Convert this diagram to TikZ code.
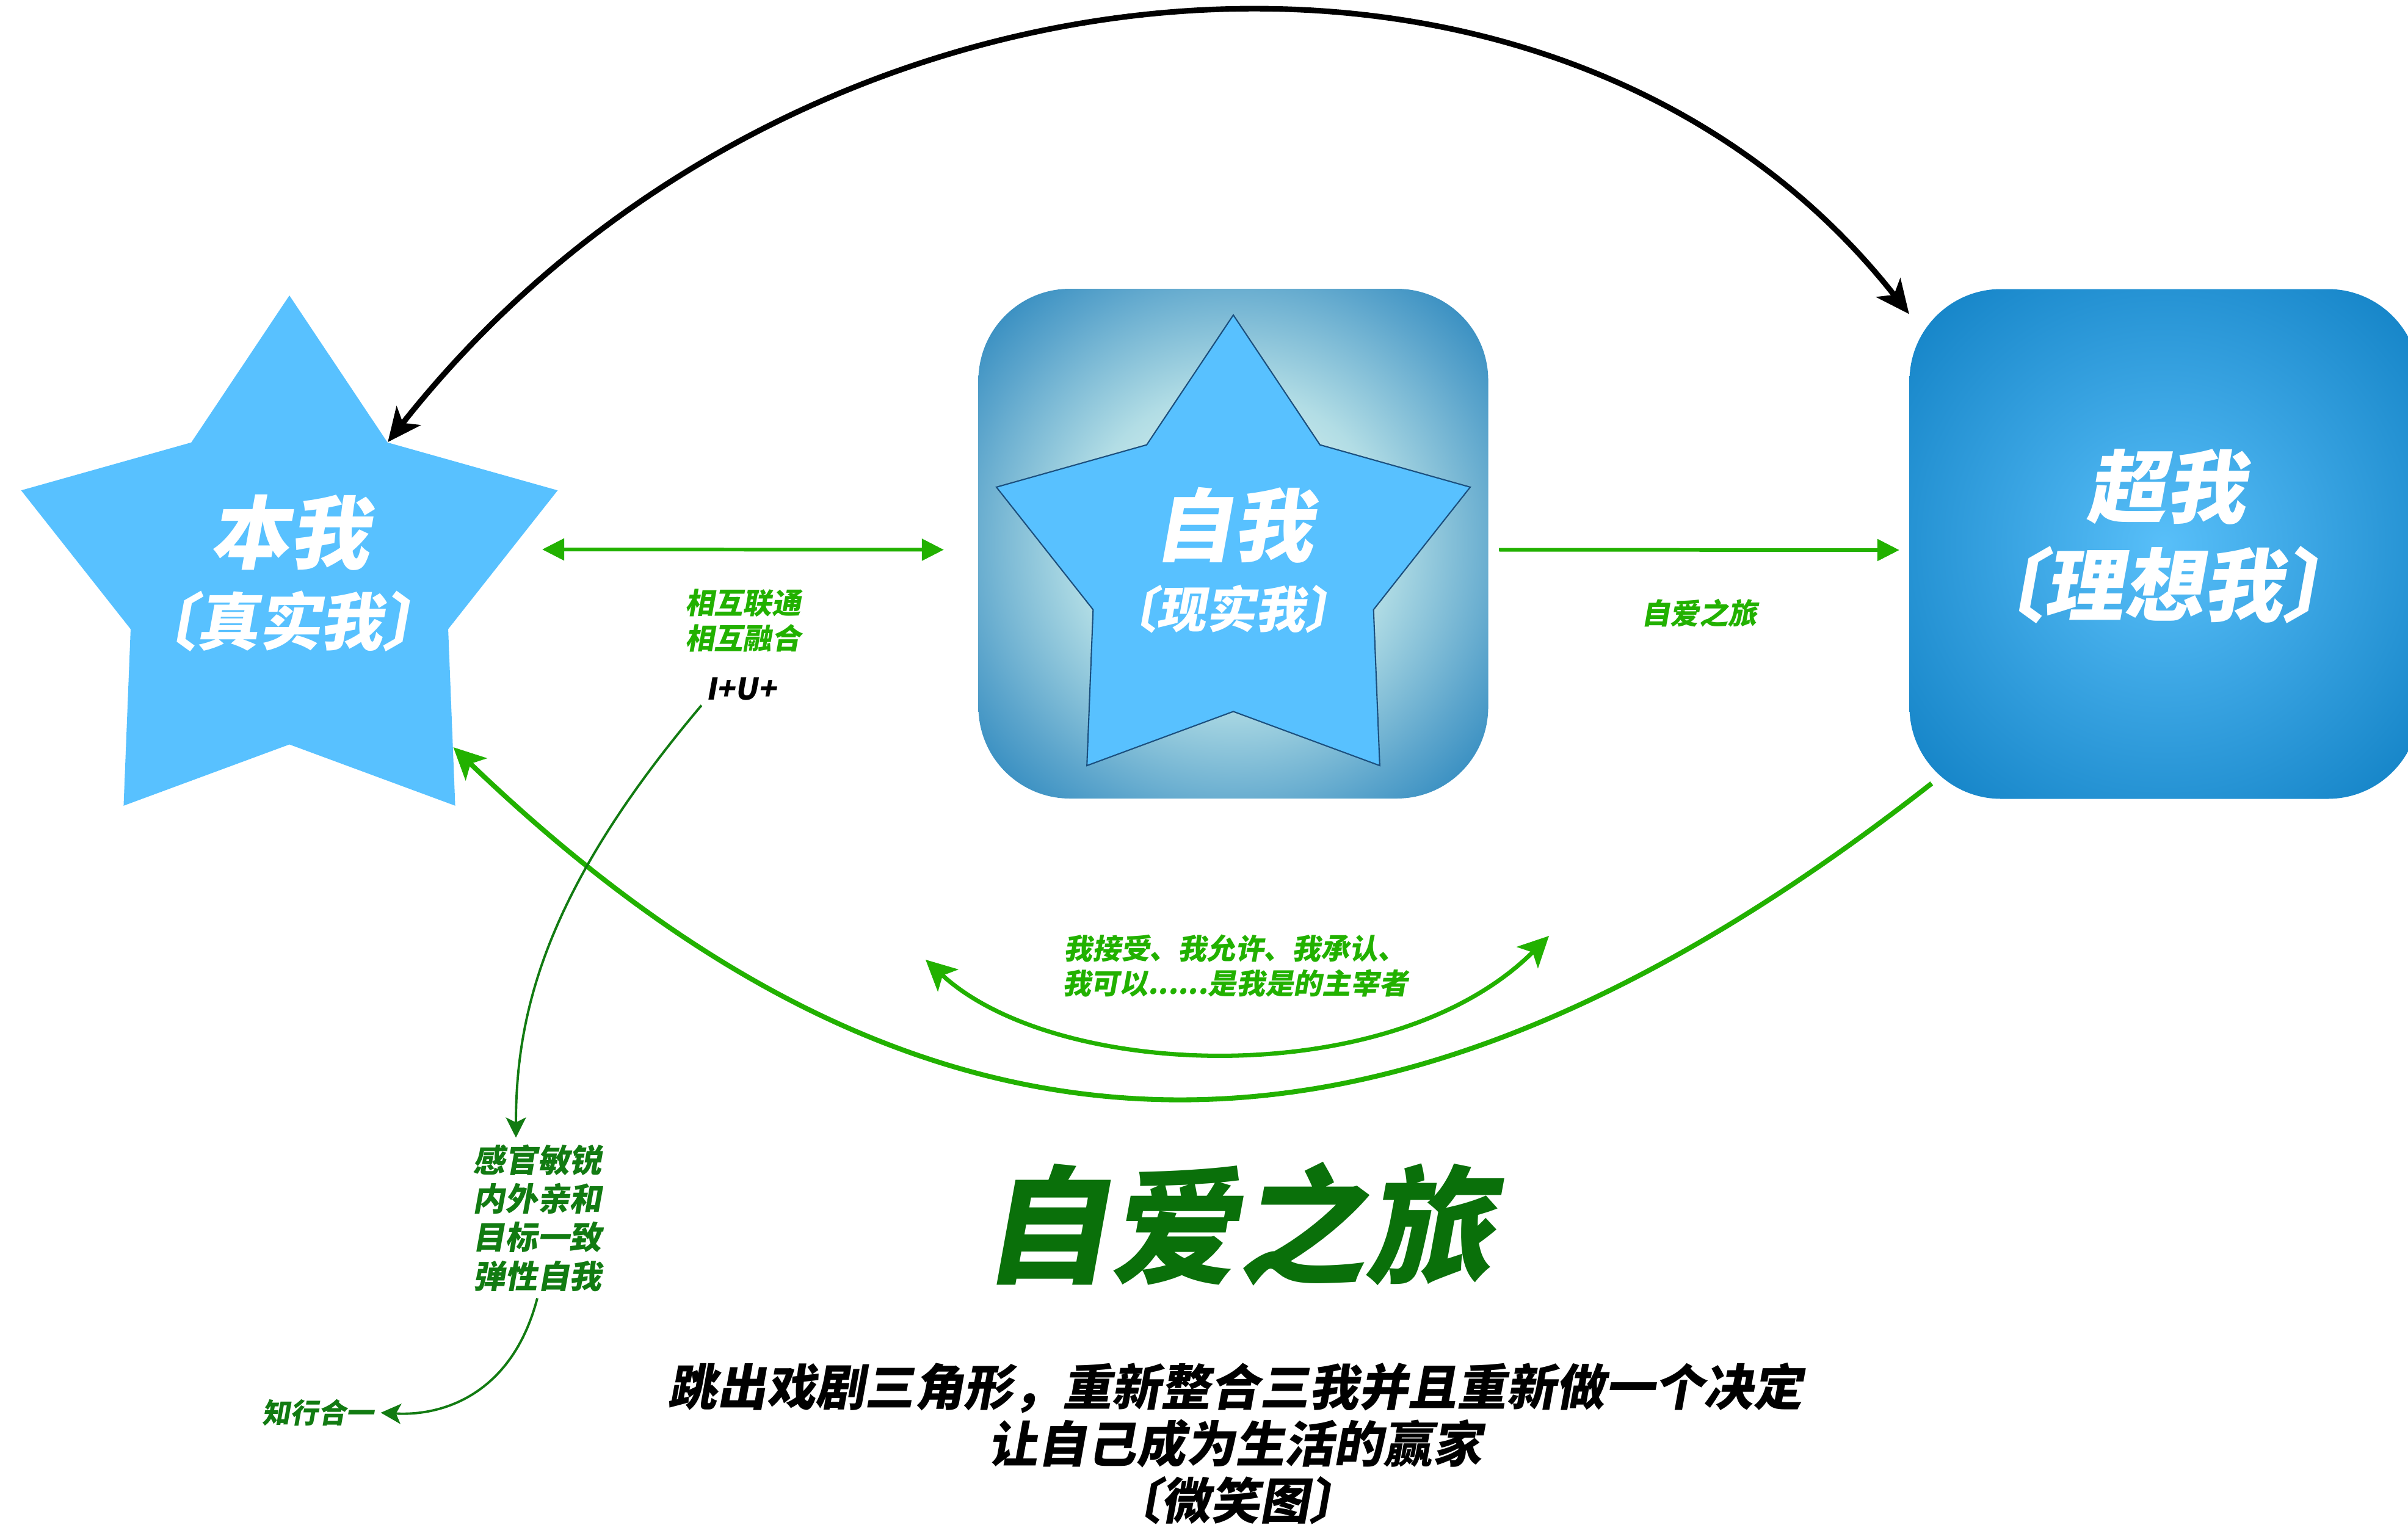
\documentclass[tikz,border=0pt]{standalone}
\usepackage{fontspec}
\usepackage{tikz}
\usetikzlibrary{shapes.geometric, positioning, arrows.meta, calc}
\usepackage{xcolor}
\newfontfamily\heiti[FakeSlant=0.18]{Noto Sans CJK SC}
\definecolor{StarBlue}{HTML}{58C1FF}
\definecolor{StarEdge}{HTML}{1B4F7E}
\definecolor{GlowMint}{HTML}{E4F7F0}
\definecolor{GlowPale}{HTML}{B2DDE5}
\definecolor{GlowBlue}{HTML}{5CA5CC}
\definecolor{GlowDeep}{HTML}{1F7FBA}
\definecolor{SuperLight}{HTML}{58BFF9}
\definecolor{SuperMid}{HTML}{1786C9}
\definecolor{SuperDeep}{HTML}{0A77BD}
\definecolor{JourneyGreen}{HTML}{22B100}
\definecolor{TraitGreen}{HTML}{127B12}
\definecolor{TitleGreen}{HTML}{0A700A}
\pgfdeclareradialshading{selfglow}{\pgfpoint{0bp}{0bp}}{color(0bp)=(GlowMint); color(4bp)=(GlowMint); color(15bp)=(GlowPale); color(27bp)=(GlowBlue); color(36bp)=(GlowDeep); color(50bp)=(GlowDeep)}
\pgfdeclareradialshading{superglow}{\pgfpoint{0bp}{0bp}}{color(0bp)=(SuperLight); color(32bp)=(SuperMid); color(45bp)=(SuperDeep); color(50bp)=(SuperDeep)}

\begin{document}
\begin{tikzpicture}[
    starshape/.style={star, star points=5, star point ratio=1.69, inner sep=0pt, fill=StarBlue},
    glowbox/.style={rectangle, rounded corners=1.5cm, minimum width=8.35cm, minimum height=8.35cm, inner sep=0pt, shade},
    bigword/.style={font=\heiti\bfseries\fontsize{37}{40}\selectfont, text=white, inner sep=0pt},
    subword/.style={font=\heiti\bfseries\fontsize{#1}{#1}\selectfont, text=white, inner sep=0pt},
    greenlabel/.style={font=\heiti\bfseries\fontsize{13.5}{16.4}\selectfont, text=JourneyGreen, align=center, inner sep=2pt},
    traitlabel/.style={font=\heiti\bfseries\fontsize{15}{18}\selectfont, text=TraitGreen, align=center, inner sep=3pt},
    link/.style={line width=1.7pt, JourneyGreen},
    bigarc/.style={line width=2.6pt, black, {Stealth[length=5.5mm,width=5mm,inset=1.5mm]}-{Stealth[length=5.5mm,width=5mm,inset=1.5mm]}},
    thinlink/.style={line width=1.1pt, TraitGreen, -{Stealth[length=3.3mm,width=3.3mm,inset=0.8mm]}}
]
\useasboundingbox (0,0) rectangle (39.44,-24.97);

% the three selves
\node[glowbox, shading=selfglow] (selfbox) at (20.20,-8.905) {};
\node[glowbox, shading=superglow] (super) at (35.45,-8.91) {};
\node[starshape, minimum size=9.24cm] (ben) at (4.74,-9.46) {};
\node[starshape, minimum size=8.16cm, draw=StarEdge, line width=0.6pt] (zi) at (20.20,-9.24) {};

\node[bigword] (benname) at (4.74,-8.72) {本我};
\node[subword=29] (benalt) at (4.74,-10.18) {〔真实我〕};
\node[bigword] (ziname) at (20.20,-8.60) {自我};
\node[subword=23] (zialt) at (20.16,-9.98) {〔现实我〕};
\node[bigword] (supername) at (35.47,-7.97) {超我};
\node[subword=37] (superalt) at (35.43,-9.58) {〔理想我〕};

% arrows between the selves
\draw[link, {Triangle[length=3.6mm,width=3.5mm]}-{Triangle[length=3.6mm,width=3.5mm]}]
    ($(ben.center)+(4.14,0.46)$) -- ($(selfbox.west)+(-0.56,-0.1)$)
    node[midway, below=0.55cm, greenlabel] (linkage) {相互联通\\相互融合};
\draw[link, -{Triangle[length=3.6mm,width=3.5mm]}]
    ($(selfbox.east)+(0.17,-0.1)$) -- ($(super.west)+(-0.16,-0.1)$)
    node[midway, below=0.7cm, greenlabel] (selflove) {自爱之旅};
\node[font=\heiti\bfseries\fontsize{14}{16}\selectfont, inner sep=2pt] (iu) at (12.14,-11.29) {I+U+};

\draw[bigarc] (ben.inner point 5) .. controls (13.0,1.2) and (25.5,2.2) .. (super.138);
\draw[line width=2.3pt, JourneyGreen, -{Stealth[length=5.2mm,width=5mm,inset=1.3mm]}]
    ($(super.south west)+(0.37,0.26)$) .. controls (23.0,-19.6) and (15.5,-20.0) .. (ben.-46);

% acceptance
\coordinate (accL) at (15.16,-15.72);
\coordinate (accR) at (25.37,-15.33);
\draw[line width=2pt, JourneyGreen, {Stealth[length=5mm,width=4.9mm,inset=1.2mm]}-{Stealth[length=5mm,width=4.9mm,inset=1.2mm]}]
    (accL) .. controls (17.3,-17.7) and (22.8,-17.9) .. (accR);
\node[greenlabel, font=\heiti\bfseries\fontsize{13.3}{16.2}\selectfont] (accept) at (20.23,-15.82) {我接受、我允许、我承认、\\我可以......是我是的主宰者};

% traits
\node[traitlabel] (traits) at (8.80,-19.95) {感官敏锐\\内外亲和\\目标一致\\弹性自我};
\node[traitlabel, font=\heiti\bfseries\fontsize{13}{15}\selectfont] (zhixing) at (5.21,-23.14) {知行合一};
\draw[thinlink] (iu.south west) .. controls (9.0,-14.5) and (8.45,-16.5) .. ([xshift=-0.35cm]traits.north);
\draw[thinlink] (traits.south) .. controls (8.40,-22.8) and (7.30,-23.2) .. (zhixing.east);

% title
\node[font=\heiti\bfseries\fontsize{59.5}{62}\selectfont, text=TitleGreen] (title) at (20.27,-20.05) {自爱之旅};
\node[font=\heiti\bfseries\fontsize{23}{26.5}\selectfont, align=center] (closing) at (20.23,-23.65)
    {跳出戏剧三角形，重新整合三我并且重新做一个决定\\让自己成为生活的赢家\\〔微笑图〕};
\end{tikzpicture}
\end{document}
